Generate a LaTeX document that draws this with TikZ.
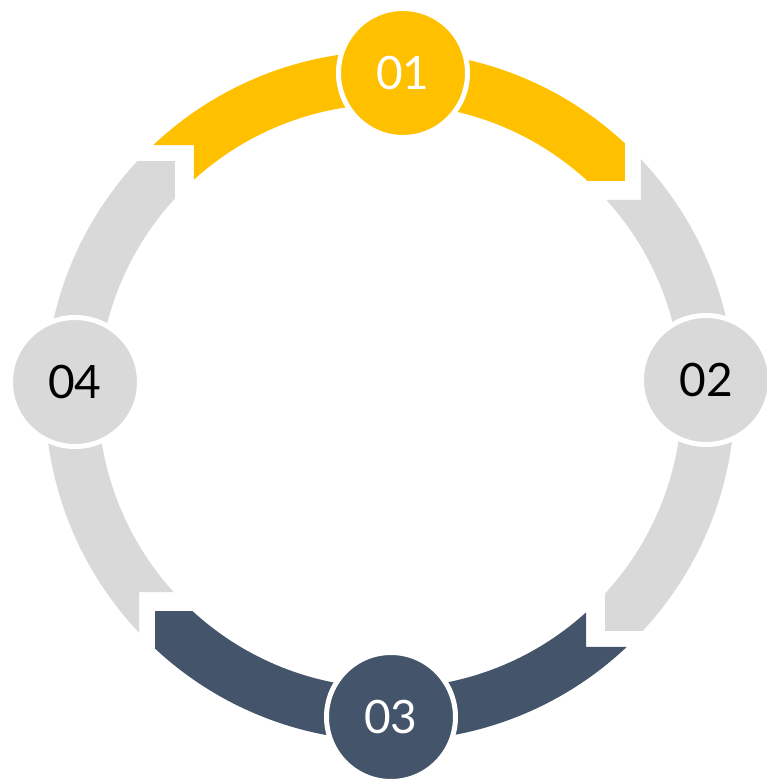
\documentclass[tikz,border=0pt]{standalone}
\usepackage{fontspec}
\setmainfont{Lato}
\definecolor{cyel}{HTML}{FFC000}
\definecolor{cgray}{HTML}{D9D9D9}
\definecolor{cdark}{HTML}{44546A}
% #1 start joint angle (tail notch), #2 end joint angle (arrow head), #3 colour
\newcommand{\ringseg}[3]{%
  \fill[#3] ({#1-1.68}:345) arc[start angle={#1-1.68}, end angle={#2+2.106}, radius=345]
    -- ({#2-2.5}:318.5) -- ({#2+2.47}:292)
    arc[start angle={#2+2.47}, end angle={#1-2.81}, radius=292]
    -- ({#1-7}:318.5) -- cycle;}
\tikzset{
  stepdisc/.style={circle, minimum size=129pt, inner sep=0pt, draw=white, line width=5pt,
    font=\fontsize{46pt}{46pt}\selectfont},
}
\begin{document}
\begin{tikzpicture}[x=1pt,y=1pt]
\useasboundingbox (-390,-383) rectangle (376,396);
\ringseg{135}{45}{cyel}
\ringseg{45}{-45}{cgray}
\ringseg{-45}{-135}{cdark}
\ringseg{-135}{-225}{cgray}
\node[stepdisc, fill=cyel, text=white] (n1) at (13,323) {01};
\node[stepdisc, fill=cgray, text=black] (n2) at (316,16) {02};
\node[stepdisc, fill=cdark, text=white] (n3) at (1,-321) {03};
\node[stepdisc, fill=cgray, text=black] (n4) at (-315,14) {04};
\end{tikzpicture}
\end{document}
